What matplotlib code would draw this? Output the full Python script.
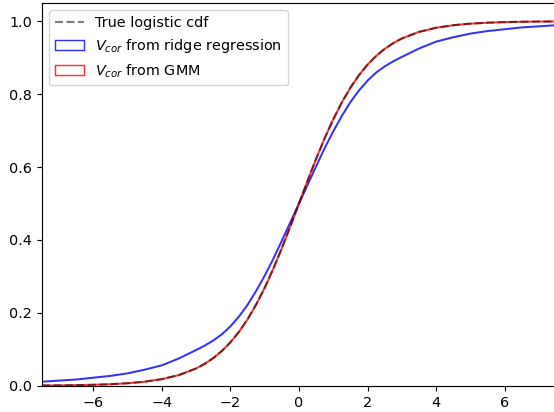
import matplotlib
matplotlib.use("Agg")
import matplotlib.pyplot as plt
from matplotlib.patches import Patch
from matplotlib.lines import Line2D

# x grid (negative half); curves are symmetric about (0, 0.5)
x_neg = [-7.5, -7.0, -6.5, -6.0, -5.5, -5.0, -4.5, -4.0, -3.5, -3.0, -2.75, -2.5,
         -2.25, -2.0, -1.75, -1.5, -1.25, -1.0, -0.75, -0.5, -0.25]
logistic_neg = [0.00055, 0.00091, 0.0015, 0.00247, 0.00407, 0.00669, 0.0110, 0.0180,
                0.0293, 0.0474, 0.0601, 0.0759, 0.0953, 0.1192, 0.1480, 0.1824,
                0.2227, 0.2689, 0.3208, 0.3775, 0.4378]
gmm_neg = [0.0006, 0.0009, 0.0015, 0.0025, 0.0041, 0.0067, 0.0110, 0.0180,
           0.0293, 0.0474, 0.0601, 0.0759, 0.0953, 0.1192, 0.1480, 0.1824,
           0.2227, 0.2689, 0.3208, 0.3775, 0.4378]
ridge_neg = [0.011, 0.014, 0.017, 0.022, 0.027, 0.034, 0.044, 0.056, 0.075, 0.098,
             0.110, 0.124, 0.141, 0.163, 0.190, 0.222, 0.260, 0.302, 0.348, 0.398, 0.449]
center = 0.5

x_tick_vals = [-6, -4, -2, 0, 2, 4, 6]
y_tick_vals = [0.0, 0.2, 0.4, 0.6, 0.8, 1.0]

labels = ["True logistic cdf", r"$V_{cor}$ from ridge regression", r"$V_{cor}$ from GMM"]


def full(xn, yn):
    xs = list(xn) + [0.0] + [-v for v in reversed(xn)]
    ys = list(yn) + [center] + [1 - v for v in reversed(yn)]
    return xs, ys


S = 1.036
plt.rcParams["font.size"] = 10 * S

fig = plt.figure(figsize=(5.54, 4.12), dpi=100)
ax = fig.add_axes([42 / 554, (412 - 385.7) / 412, 514 / 554, (385.7 - 3) / 412])

xr, yr = full(x_neg, ridge_neg)
xg, yg = full(x_neg, gmm_neg)
xl, yl = full(x_neg, logistic_neg)

ax.plot(xr, yr, color="blue", alpha=0.8, lw=1.4 * S, solid_joinstyle="round")
ax.plot(xg, yg, color="red", alpha=0.8, lw=1.4 * S, solid_joinstyle="round")
ax.plot(xl, yl, color="k", alpha=0.5, lw=1.5 * S, ls="--")

ax.set_xlim(-7.5, 7.5)
ax.set_ylim(0, 1.05)
ax.set_xticks(x_tick_vals)
ax.set_xticklabels(["\u2212" + str(-v) if v < 0 else str(v) for v in x_tick_vals])
ax.set_yticks(y_tick_vals)
ax.set_yticklabels([f"{v:.1f}" for v in y_tick_vals])
for sp in ax.spines.values():
    sp.set_linewidth(0.8 * S)
ax.tick_params(width=0.8 * S, length=3.5 * S)

handles = [
    Line2D([], [], color="k", alpha=0.5, lw=1.5 * S, ls="--"),
    Patch(facecolor="none", edgecolor="blue", alpha=0.8, lw=1.0 * S),
    Patch(facecolor="none", edgecolor="red", alpha=0.8, lw=1.0 * S),
]
ax.legend(handles, labels, loc="upper left", fontsize=10 * S)

fig.savefig("out.png", dpi=100)
